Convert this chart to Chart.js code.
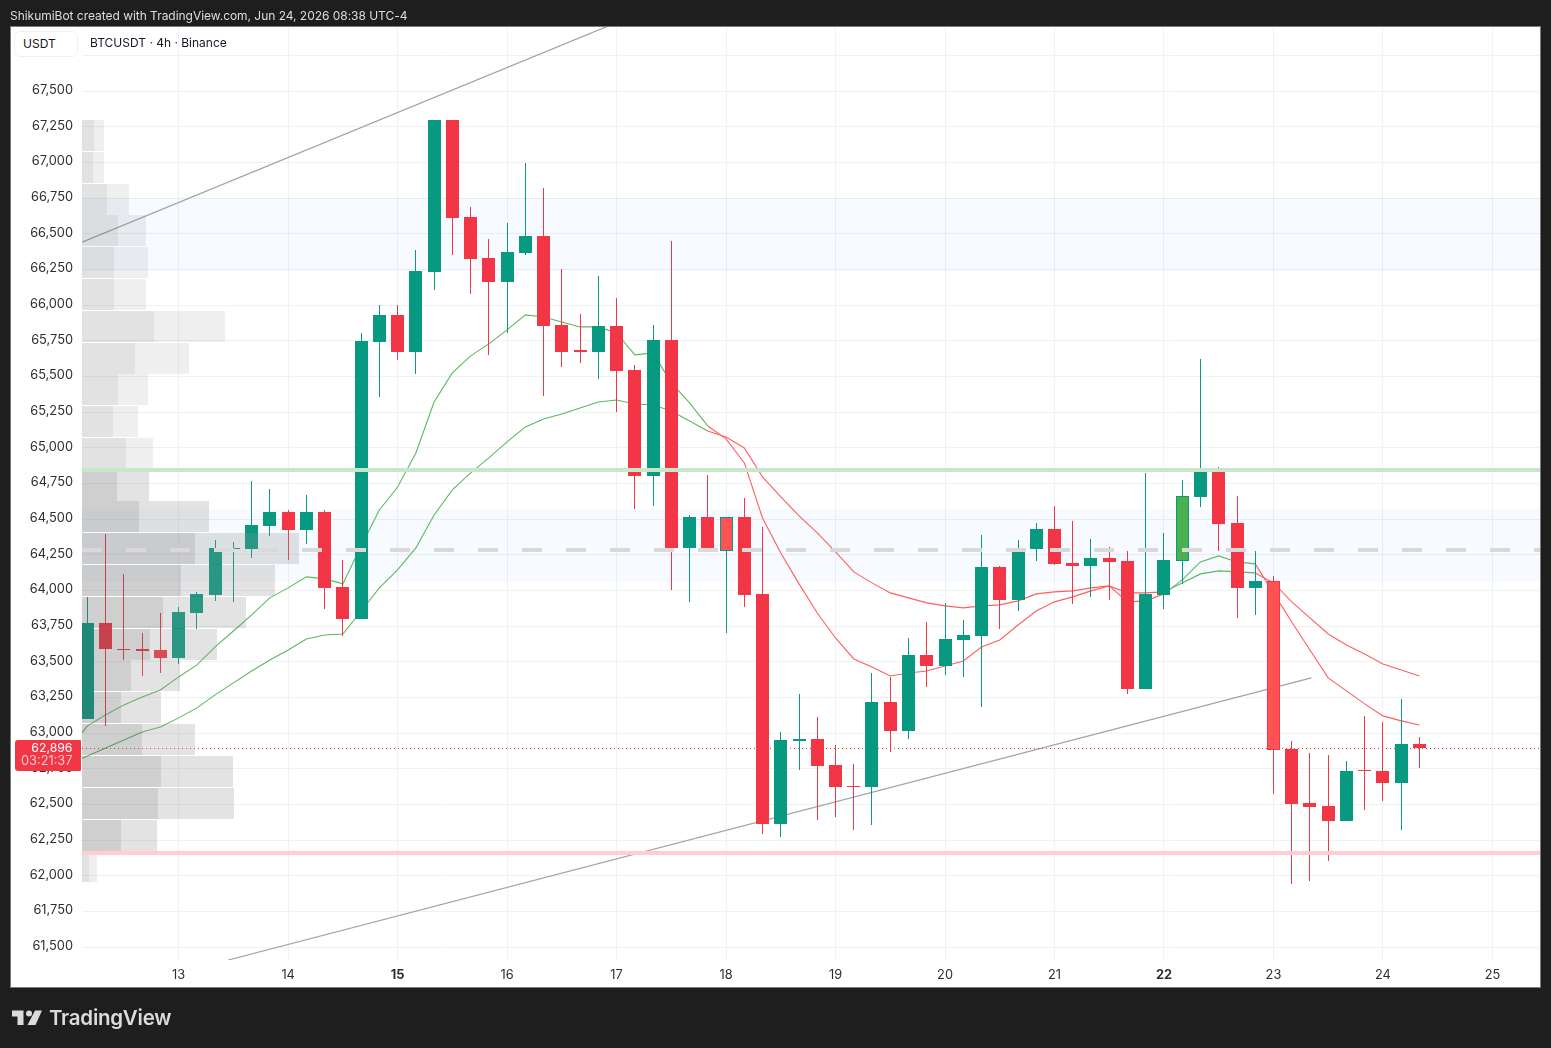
<!DOCTYPE html>
<html>
<head>
<meta charset="utf-8">
<title>BTCUSDT 4h</title>
<script src="https://cdn.jsdelivr.net/npm/chart.js@4"></script>
<style>
  html, body { margin:0; padding:0; width:1551px; height:1048px; overflow:hidden; background:#1e1e1e; font-family:Inter, sans-serif; }
  #panel { position:absolute; left:10px; top:26px; width:1529px; height:960px; background:#fff; border:1px solid #7a7a7a; }
  canvas { position:absolute; left:0; top:0; }
  #credit { position:absolute; left:10px; top:8px; font-size:12px; line-height:15px; letter-spacing:-.03px; color:#dedede; white-space:nowrap; }
  #devise { position:absolute; left:14px; top:31px; width:62px; height:24px; border:1px solid #f0f0f0; border-radius:6px; background:#fff; font-size:12px; line-height:24px; color:#131722; text-indent:8px; }
  #titre { position:absolute; left:90px; top:35px; font-size:12px; line-height:15px; color:#131722; white-space:nowrap; }
  #logo { position:absolute; left:12px; top:1008px; }
  #marque { position:absolute; left:49px; top:1004px; font-size:20.5px; line-height:28px; font-weight:600; letter-spacing:-.25px; color:#dbdbdb; white-space:nowrap; }
</style>
</head>
<body>
<div id="panel"></div>
<canvas id="graph" width="1551" height="1048"></canvas>
<div id="credit">ShikumiBot created with TradingView.com, Jun 24, 2026 08:38 UTC-4</div>
<div id="devise">USDT</div>
<div id="titre">BTCUSDT · 4h · Binance</div>
<svg id="logo" width="32" height="20" viewBox="0 0 32 20">
  <path d="M0 2.5H11.5V17H5.5V8.5H0Z M23 2.5H30L23.5 17H15.5Z" fill="#dbdbdb"/>
  <circle cx="17" cy="5.5" r="3" fill="#dbdbdb"/>
</svg>
<div id="marque">TradingView</div>
<script>
/* ---- bougies 4h ---- */
const candleTimes = [
  12.167, 12.333, 12.5, 12.667, 12.833,
  13, 13.167, 13.333, 13.5, 13.667, 13.833,
  14, 14.167, 14.333, 14.5, 14.667, 14.833,
  15, 15.167, 15.333, 15.5, 15.667, 15.833,
  16, 16.167, 16.333, 16.5, 16.667, 16.833,
  17, 17.167, 17.333, 17.5, 17.667, 17.833,
  18, 18.167, 18.333, 18.5, 18.667, 18.833,
  19, 19.167, 19.333, 19.5, 19.667, 19.833,
  20, 20.167, 20.333, 20.5, 20.667, 20.833,
  21, 21.167, 21.333, 21.5, 21.667, 21.833,
  22, 22.167, 22.333, 22.5, 22.667, 22.833,
  23, 23.167, 23.333, 23.5, 23.667, 23.833,
  24, 24.167, 24.333
];
const opens = [
  63100, 63773, 63592, 63591, 63584,
  63528, 63843, 63970, 64292, 64292, 64453,
  64551, 64425, 64551, 64026, 63802, 65743,
  65932, 65673, 66234, 67299, 66619, 66332,
  66163, 66367, 66486, 65862, 65684, 65673,
  65855, 65547, 64804, 65757, 64299, 64516,
  64516, 64516, 63977, 62365, 62946, 62960,
  62778, 62630, 62624, 63220, 63016, 63549,
  63472, 63654, 63682, 64166, 63935, 64292,
  64432, 64194, 64173, 64229, 64208, 63311,
  63970, 64208, 64657, 64839, 64474, 64019,
  64068, 62890, 62512, 62491, 62386, 62740,
  62736, 62652, 62925
];
const highs = [
  63956, 64397, 64117, 63703, 63843,
  63885, 63991, 64355, 64341, 64769, 64713,
  64565, 64671, 64565, 64215, 65806, 66002,
  66002, 66388, 67299, 67299, 66689, 66465,
  66577, 66998, 66822, 66255, 65939, 66206,
  66051, 65582, 65862, 66451, 64530, 64811,
  64516, 64650, 64446, 63009, 63276, 63115,
  62918, 62785, 63423, 63395, 63668, 63780,
  63914, 63794, 64390, 64173, 64355, 64474,
  64593, 64488, 64362, 64306, 64278, 64825,
  64404, 64776, 65624, 64867, 64664, 64278,
  64103, 62946, 62862, 62848, 62806, 63122,
  63080, 63241, 62975
];
const lows = [
  63100, 63052, 63514, 63402, 63423,
  63486, 63731, 63928, 63921, 64229, 64383,
  64215, 64327, 63871, 63682, 63802, 65357,
  65617, 65519, 66107, 66353, 66079, 65652,
  65806, 66353, 65364, 65568, 65596, 65484,
  65252, 64572, 64593, 64005, 63921, 64299,
  63703, 63885, 62295, 62274, 62743, 62393,
  62414, 62323, 62358, 62869, 62960, 63325,
  63409, 63395, 63185, 63731, 63857, 64208,
  64180, 63907, 63956, 63935, 63276, 63311,
  63871, 64047, 64586, 64278, 63809, 63830,
  62575, 61944, 61965, 62105, 62386, 62463,
  62526, 62323, 62757
];
const closes = [
  63773, 63591, 63584, 63577, 63528,
  63851, 63977, 64299, 64299, 64460, 64551,
  64425, 64551, 64019, 63802, 65750, 65932,
  65673, 66241, 67299, 66612, 66325, 66163,
  66374, 66486, 65855, 65673, 65673, 65855,
  65540, 64804, 65757, 64299, 64516, 64299,
  64278, 63970, 62365, 62953, 62960, 62771,
  62624, 62624, 63220, 63016, 63549, 63472,
  63661, 63689, 64166, 63935, 64271, 64432,
  64187, 64173, 64229, 64201, 63311, 63977,
  64215, 64664, 64839, 64467, 64019, 64068,
  62883, 62505, 62484, 62386, 62736, 62733,
  62652, 62925, 62896
];
const lastPrice = 62896;
const countdown = '03:21:37';

/* ---- moyennes : un point avant la premiere bougie pour sortir du cadre ---- */
const lineTimes = [12].concat(candleTimes);
const fastLine = [
  62890, 63052, 63129, 63199, 63255, 63304,
  63395, 63479, 63605, 63717, 63830, 63949,
  64019, 64096, 64082, 64047, 64313, 64565,
  64726, 64965, 65322, 65526, 65645, 65729,
  65827, 65932, 65918, 65883, 65848, 65848,
  65806, 65652, 65666, 65456, 65315, 65154,
  65063, 64895, 64509, 64264, 64047, 63843,
  63668, 63521, 63465, 63402, 63423, 63437,
  63472, 63507, 63605, 63654, 63759, 63857,
  63921, 63956, 63998, 64033, 63921, 63928,
  63977, 64075, 64201, 64243, 64201, 64187,
  63984, 63780, 63584, 63388, 63297, 63206,
  63122, 63087, 63058
];
const slowLine = [
  62785, 62841, 62897, 62953, 63009, 63044,
  63108, 63178, 63269, 63353, 63437, 63514,
  63584, 63661, 63689, 63696, 63857, 64019,
  64145, 64299, 64530, 64706, 64825, 64930,
  65042, 65147, 65203, 65238, 65280, 65322,
  65336, 65308, 65301, 65259, 65189, 65119,
  65077, 65000, 64797, 64657, 64523, 64404,
  64271, 64131, 64054, 63984, 63949, 63914,
  63893, 63879, 63893, 63900, 63928, 63977,
  63991, 63998, 64019, 64033, 63984, 63984,
  63991, 64054, 64117, 64138, 64131, 64124,
  64054, 63921, 63809, 63696, 63619, 63556,
  63486, 63444, 63402
];
/* plages rouges de la moyenne, en indices de lineTimes */
const redRanges = [[35, 60], [65, 74]];

/* ---- profil de volume ---- */
const binPrices = [
  67190, 66967, 66744, 66521, 66298, 66076, 65853, 65630, 65407, 65184, 64961, 64739,
  64516, 64293, 64070, 63847, 63624, 63402, 63179, 62956, 62733, 62510, 62287, 62064
];
const buyVolumes = [12, 11, 25, 36, 32, 32, 72, 53, 36, 31, 44, 35, 57, 113, 99, 81, 68, 49, 39, 60, 79, 76, 39, 7];
const sellVolumes = [10, 11, 22, 28, 34, 32, 71, 54, 30, 25, 27, 32, 70, 104, 94, 83, 67, 49, 40, 53, 72, 76, 36, 8];
const valueAreaBins = [11, 22]; // premier et dernier bin de la zone de valeur

/* ---- niveaux et droites tracees ---- */
const zoneTops = [66752, 64572];
const zoneBottoms = [66241, 64061];
const resistance = 64846;
const support = 62161;
const midLevel = 64285;
const upperTrendTimes = [12.118, 16.927];
const upperTrendPrices = [66442, 67958];
const lowerTrendTimes = [13.453, 23.346];
const lowerTrendPrices = [61411, 63388];

const priceTicks = [
  61500, 61750, 62000, 62250, 62500, 62750, 63000, 63250, 63500, 63750, 64000, 64250, 64500,
  64750, 65000, 65250, 65500, 65750, 66000, 66250, 66500, 66750, 67000, 67250, 67500, 67750
];
const boldDays = [15, 22];
const X_MIN = 12.1172, X_MAX = 25.4346, Y_MIN = 61411, Y_MAX = 67950;

const UP = '#089981', DOWN = '#F23645';
/* bougies marquees : remplissage different, contour de la couleur du sens */
const markedFill = { 35: '#FF5252', 60: '#4CAF50', 65: '#FF5252' };
const FONT = 'Inter, sans-serif';

const isUp = i => i === 35 ? true : closes[i] >= opens[i];
const candleColor = i => isUp(i) ? UP : DOWN;
const indices = candleTimes.map((_, i) => i);
const level = (value, extra) => Object.assign({
  type: 'line', data: [{ x: X_MIN, y: value }, { x: X_MAX, y: value }], pointRadius: 0, tension: 0
}, extra);
const pts = (xs, ys) => xs.map((x, i) => ({ x, y: ys[i] }));
const inValueArea = i => i >= valueAreaBins[0] && i <= valueAreaBins[1];

/* colle barres et niveaux a la grille de pixels */
const snapPlugin = {
  id: 'snap',
  afterDatasetsUpdate(chart){
    chart.data.datasets.forEach((ds, d) => {
      const meta = chart.getDatasetMeta(d);
      if(ds.type === 'bar' && ds.indexAxis === 'y'){
        meta.data.forEach(el => { el.y = Math.round(el.y - .5) + .5; el.x = Math.round(el.x); el.base = Math.round(el.base); });
      } else if(ds.type === 'bar'){
        meta.data.forEach(el => {
          el.x = Math.floor(el.x) + .5;
          el.y = Math.round(el.y); el.base = Math.round(el.base);
          if(el.y === el.base) el.base = el.y + 1;
        });
      } else if(ds.snapY){
        const w = ds.borderWidth;
        meta.data.forEach(pt => { pt.y = w % 2 ? Math.floor(pt.y) + .5 : Math.round(pt.y); });
      }
    });
  }
};

/* etiquette du dernier prix, sur l'axe de gauche */
const priceTagPlugin = {
  id: 'priceTag',
  afterDraw(chart){
    const { ctx } = chart;
    const y = chart.scales.y.getPixelForValue(lastPrice);
    ctx.save();
    ctx.fillStyle = DOWN;
    ctx.beginPath();
    ctx.roundRect(15, Math.round(y) - 8, 66, 31, [3, 1, 1, 3]);
    ctx.fill();
    ctx.textAlign = 'right';
    ctx.textBaseline = 'middle';
    ctx.font = '12.3px ' + FONT;
    ctx.fillStyle = '#fff';
    ctx.fillText(lastPrice.toLocaleString('en-US'), 72.5, y);
    ctx.font = '12.8px ' + FONT;
    ctx.fillStyle = 'rgba(255,255,255,.72)';
    ctx.fillText(countdown, 72.5, y + 13.5);
    ctx.restore();
  }
};

const emaSegments = serie => ({
  type: 'line', data: pts(lineTimes, serie), borderWidth: 1.1, pointRadius: 0, tension: 0, order: 7,
  borderColor: '#5CB860',
  segment: { borderColor: c => redRanges.some(r => c.p0DataIndex >= r[0] && c.p0DataIndex < r[1]) ? '#FF5F5F' : '#5CB860' }
});
const trendLine = (xs, ys) => ({
  type: 'line', data: pts(xs, ys), borderColor: '#A3A3A3', borderWidth: 1.25, pointRadius: 0, tension: 0, order: 8
});

new Chart(document.getElementById('graph'), {
  type: 'bar',
  data: { datasets: [
    level(midLevel, { borderColor: '#D9D9D9', borderWidth: 4, borderDash: [20, 24], order: 1, snapY: true }),
    level(resistance, { borderColor: '#C8E6C9', borderWidth: 4, order: 2, snapY: true }),
    level(support, { borderColor: '#FFCDD2', borderWidth: 4, order: 2, snapY: true }),

    { type: 'bar', indexAxis: 'y', xAxisID: 'vol', grouped: false, barThickness: 31, order: 3, inflateAmount: 0,
      data: binPrices.map((p, i) => ({ y: p, x: [0, buyVolumes[i]] })),
      backgroundColor: binPrices.map((_, i) => inValueArea(i) ? 'rgba(95,95,95,.3)' : 'rgba(95,95,95,.18)') },
    { type: 'bar', indexAxis: 'y', xAxisID: 'vol', grouped: false, barThickness: 31, order: 3, inflateAmount: 0,
      data: binPrices.map((p, i) => ({ y: p, x: [buyVolumes[i], buyVolumes[i] + sellVolumes[i]] })),
      backgroundColor: binPrices.map((_, i) => inValueArea(i) ? 'rgba(144,144,144,.25)' : 'rgba(95,95,95,.1)') },

    { type: 'bar', grouped: false, barThickness: 13, order: 4, inflateAmount: 0, borderSkipped: false, borderWidth: 1,
      data: indices.map(i => ({ x: candleTimes[i], y: [opens[i], closes[i]] })),
      backgroundColor: indices.map(i => markedFill[i] || candleColor(i)),
      borderColor: indices.map(candleColor) },
    { type: 'bar', grouped: false, barThickness: 1, order: 5, inflateAmount: 0,
      data: indices.map(i => ({ x: candleTimes[i], y: [lows[i], highs[i]] })),
      backgroundColor: indices.map(candleColor) },

    level(lastPrice, { borderColor: DOWN, borderWidth: 1, borderDash: [1, 3], order: 6, snapY: true }),

    emaSegments(fastLine),
    emaSegments(slowLine),
    trendLine(upperTrendTimes, upperTrendPrices),
    trendLine(lowerTrendTimes, lowerTrendPrices),

    ...zoneTops.map((top, i) => level(top, { borderWidth: 0, order: 9, backgroundColor: 'rgba(33,120,240,.035)', fill: { value: zoneBottoms[i] } }))
  ] },
  options: {
    responsive: false,
    animation: false,
    layout: { padding: { left: 11, top: 27, right: 11, bottom: 61 } },
    plugins: { legend: { display: false }, tooltip: { enabled: false } },
    events: [],
    scales: {
      x: {
        type: 'linear', position: 'bottom', min: X_MIN, max: X_MAX, offset: false,
        afterFit(s){ s.height = 27; },
        grid: { color: '#F0F1F3', drawTicks: false, offset: false },
        border: { display: false },
        ticks: {
          stepSize: 1, includeBounds: false, autoSkip: false, maxRotation: 0, padding: 7, color: '#2E2E2E',
          font: c => ({ family: FONT, size: 12.8, weight: c.tick && boldDays.includes(c.tick.value) ? 'bold' : 'normal' }),
          callback: v => String(v)
        }
      },
      y: {
        type: 'linear', position: 'left', min: Y_MIN, max: Y_MAX, offset: false,
        afterBuildTicks(s){ s.ticks = priceTicks.map(value => ({ value })); },
        afterFit(s){ s.width = 71; },
        grid: { color: '#F0F1F3', drawTicks: false, offset: false },
        border: { display: false },
        ticks: {
          autoSkip: false, padding: 9, color: '#2E2E2E', labelOffset: -1,
          font: { family: FONT, size: 12.8 },
          callback: v => v > 67500 ? '' : v.toLocaleString('en-US')
        }
      },
      vol: { type: 'linear', axis: 'x', position: 'bottom', display: false, min: 0, max: 1458, offset: false, grid: { offset: false } }
    }
  },
  plugins: [snapPlugin, priceTagPlugin]
});
</script>
</body>
</html>
